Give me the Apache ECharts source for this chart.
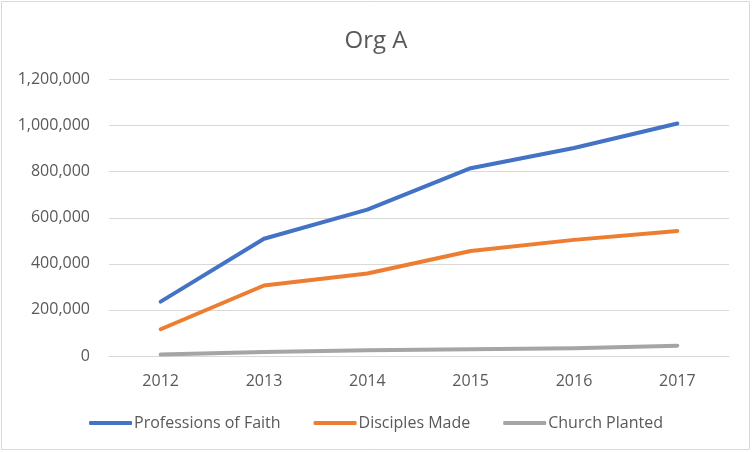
<!DOCTYPE html>
<html>
<head>
<meta charset="utf-8">
<script src="https://cdn.jsdelivr.net/npm/echarts@6/dist/echarts.min.js"></script>
<style>html,body{margin:0;padding:0;background:#fff;}#c{width:752px;height:452px;}</style>
</head>
<body>
<div id="c"></div>
<script>
const years = ['2012', '2013', '2014', '2015', '2016', '2017'];
const professions = [236000, 509000, 635000, 815000, 903000, 1009000];
const disciples = [116000, 306000, 358000, 456000, 504000, 543000];
const churches = [6000, 17000, 25000, 29000, 34000, 45000];
const yTicks = [0, 200000, 400000, 600000, 800000, 1000000, 1200000];

const FONT = 'Open Sans';
const TXT = '#595959';
const chart = echarts.init(document.getElementById('c'), null, {renderer: 'canvas'});
function mk(name, data, color) {
  return {
    name: name, type: 'line', data: data, symbol: 'none',
    lineStyle: {color: color, width: 4, cap: 'round', join: 'round'},
    itemStyle: {color: color}
  };
}
chart.setOption({
  animation: false,
  backgroundColor: '#fff',
  title: {
    text: 'Org A', left: 'center', top: 24,
    textStyle: {fontFamily: FONT, fontSize: 24, fontWeight: 'normal', color: TXT}
  },
  graphic: [{
    type: 'rect', shape: {x: 1.5, y: 1.5, width: 748, height: 448},
    style: {fill: 'none', stroke: '#d9d9d9', lineWidth: 1}, silent: true
  }],
  legend: {
    bottom: 16, left: 'center', itemWidth: 43, itemHeight: 4, itemGap: 33,
    icon: 'roundRect',
    textStyle: {fontFamily: FONT, fontSize: 16, color: TXT, padding: [0, 0, 0, -3]},
    data: ['Professions of Faith', 'Disciples Made', 'Church Planted']
  },
  grid: {left: 109, right: 23, top: 79.5, bottom: 96},
  xAxis: {
    type: 'category', data: years, boundaryGap: true,
    axisLine: {show: true, lineStyle: {color: '#d9d9d9', width: 1}},
    axisTick: {show: false},
    axisLabel: {fontFamily: FONT, fontSize: 16, color: TXT, margin: 17}
  },
  yAxis: {
    type: 'value', min: yTicks[0], max: yTicks[yTicks.length - 1], interval: yTicks[1] - yTicks[0],
    axisLine: {show: false}, axisTick: {show: false},
    splitLine: {lineStyle: {color: '#d9d9d9', width: 1}},
    axisLabel: {
      fontFamily: FONT, fontSize: 16, color: TXT, margin: 19,
      formatter: v => v.toLocaleString('en-US')
    }
  },
  series: [
    mk('Professions of Faith', professions, '#4472C4'),
    mk('Disciples Made', disciples, '#ED7D31'),
    mk('Church Planted', churches, '#A5A5A5')
  ]
});
</script>
</body>
</html>
